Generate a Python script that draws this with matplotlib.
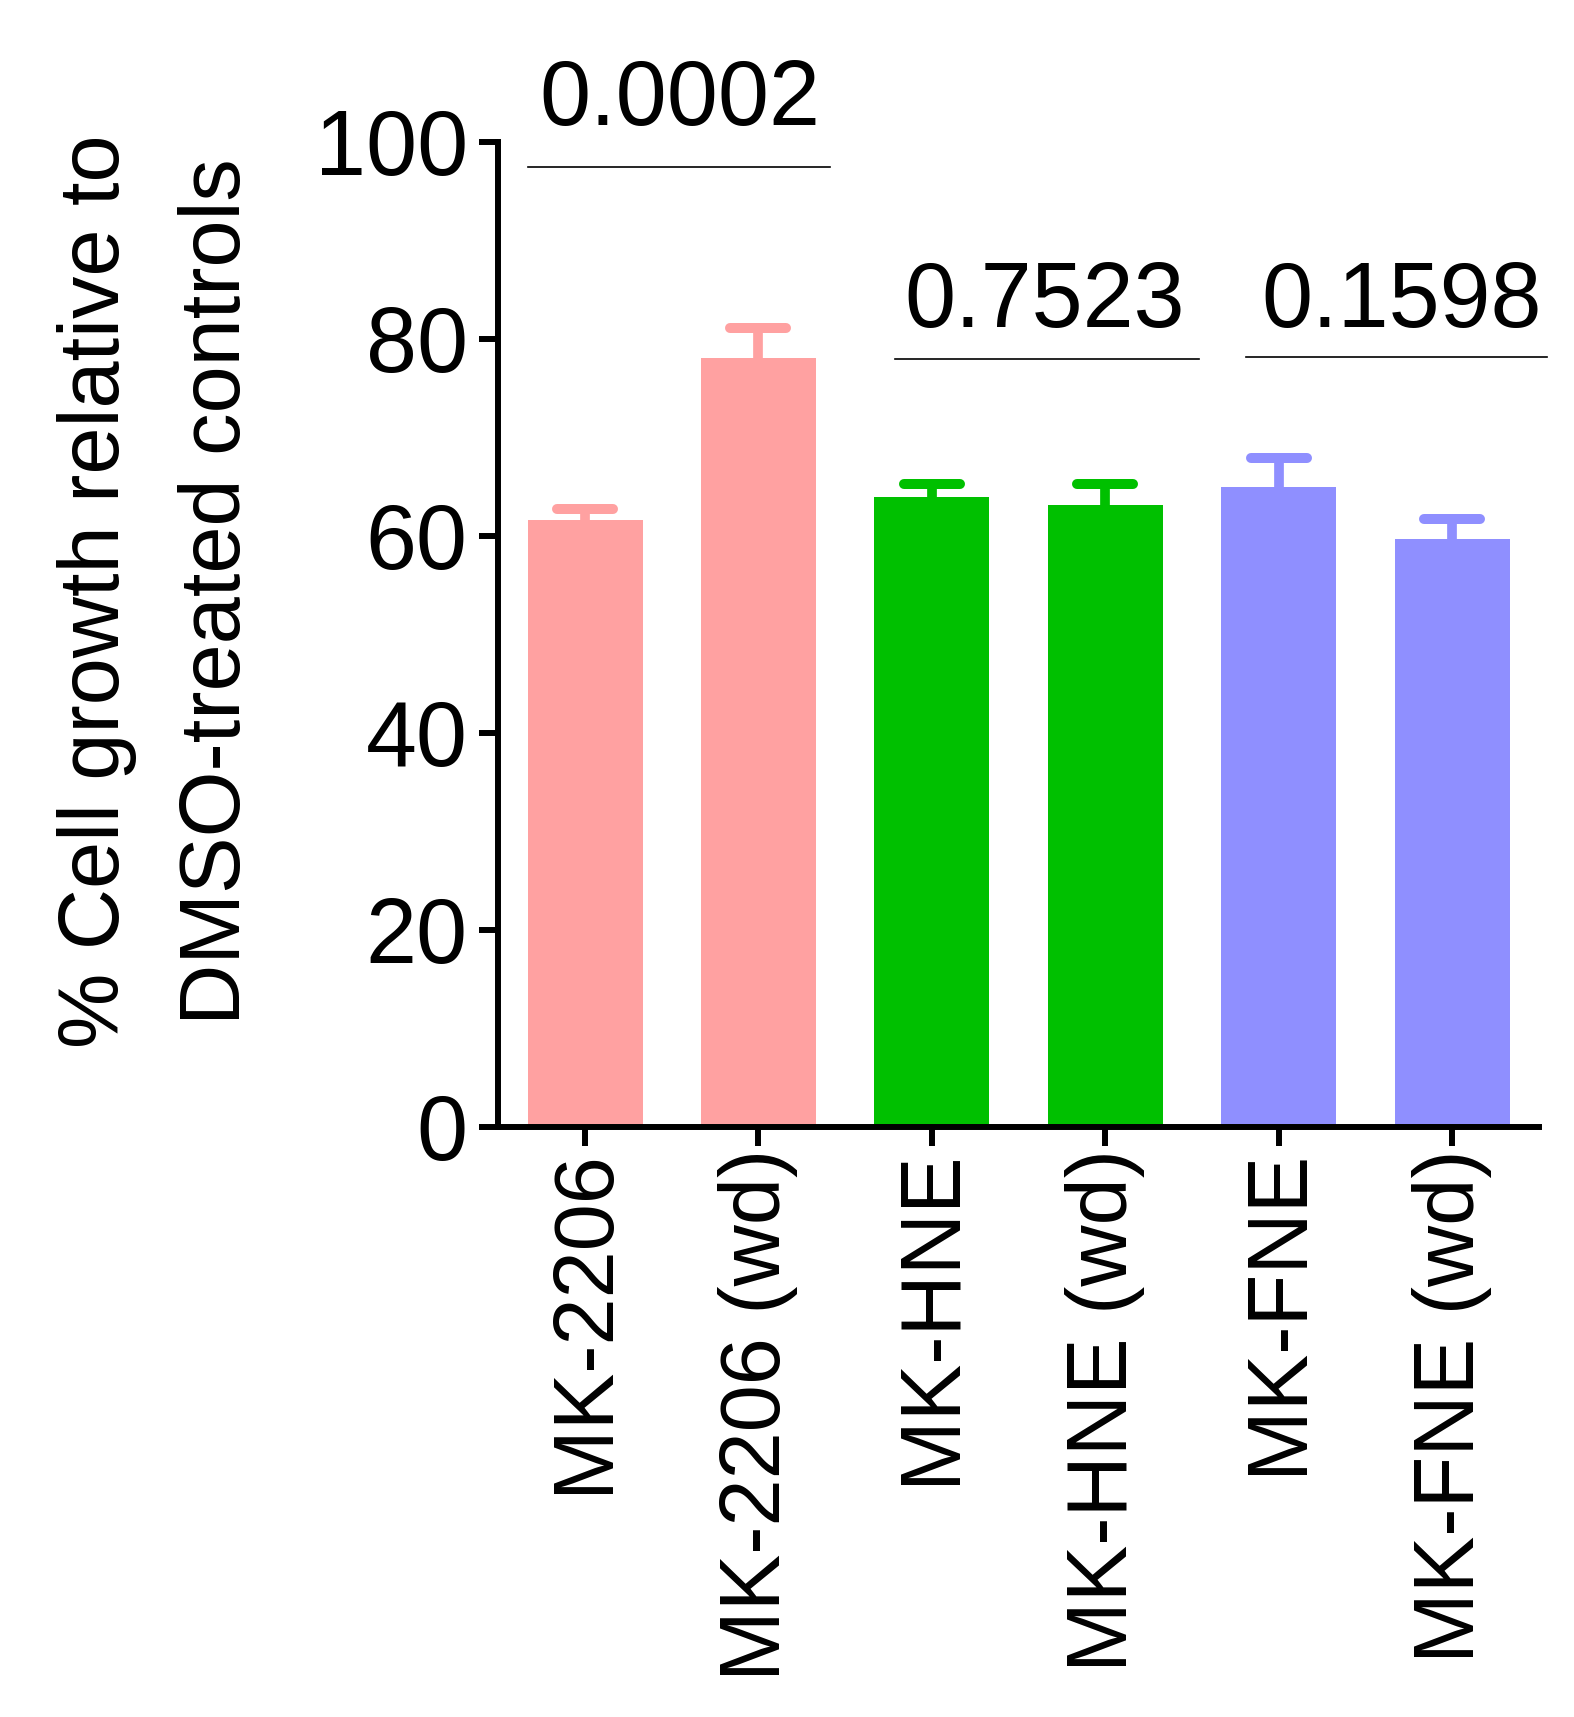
import matplotlib
matplotlib.use("Agg")
import matplotlib.pyplot as plt

plt.rcParams['font.family'] = ['Liberation Sans', 'DejaVu Sans']

# ---- data ----
categories = ["MK-2206", "MK-2206 (wd)", "MK-HNE", "MK-HNE (wd)", "MK-FNE", "MK-FNE (wd)"]
means = [61.6, 78.0, 63.9, 63.1, 64.9, 59.7]
sem = [1.1, 3.1, 1.3, 2.15, 3.0, 2.0]
bar_colors = ["#FFA1A1", "#FFA1A1", "#00C000", "#00C000", "#8F8FFF", "#8F8FFF"]
p_values = ["0.0002", "0.7523", "0.1598"]
y_ticks = [0, 20, 40, 60, 80, 100]

# ---- layout of the comparison brackets (data coordinates) ----
bracket_x = [(-0.33, 1.41), (1.79, 3.54), (3.81, 5.55)]
bracket_y = [97.4, 77.9, 78.1]
label_x = [0.548, 2.65, 4.71]
label_y = [101.7, 81.2, 81.2]

fig = plt.figure(figsize=(15.74, 17.17), dpi=100)
ax = fig.add_axes([0.3166, 0.3438, 0.661, 0.5737])

x = list(range(len(categories)))
ax.bar(x, means, width=0.663, color=bar_colors, edgecolor="none", zorder=2)

# upper-only error bars with rounded caps
cap_half = 0.1615
for xi, m, s, c in zip(x, means, sem, bar_colors):
    ax.plot([xi, xi], [m, m + s], color=c, lw=7.0, solid_capstyle="butt", zorder=2)
    ax.plot([xi - cap_half, xi + cap_half], [m + s, m + s], color=c, lw=7.2,
            solid_capstyle="round", zorder=2)

# comparison brackets with p-values
for (x0, x1), yb, tx, ty, p in zip(bracket_x, bracket_y, label_x, label_y, p_values):
    ax.plot([x0, x1], [yb, yb], color="black", lw=1.2, clip_on=False, zorder=3)
    ax.text(tx, ty, p, ha="center", va="baseline", fontsize=66, clip_on=False)

ax.set_xlim(-0.5, 5.5)
ax.set_ylim(0, 100)
ax.set_yticks(y_ticks)
ax.set_yticklabels([str(t) for t in y_ticks])
ax.set_xticks(x)
ax.set_xticklabels(categories, rotation=90, ha="center", va="top")

for side in ("top", "right"):
    ax.spines[side].set_visible(False)
for side in ("left", "bottom"):
    ax.spines[side].set_linewidth(4.3)
    ax.spines[side].set_zorder(4)

ax.tick_params(axis="both", direction="out", length=14, width=4.3)
ax.tick_params(axis="y", labelsize=66, pad=8)
ax.tick_params(axis="x", labelsize=61, pad=2)

# two-line y axis title
fig.text(119 / 1574, 0.6555, "% Cell growth relative to", rotation=90,
         rotation_mode="anchor", ha="center", va="baseline", fontsize=61)
fig.text(240 / 1574, 0.6555, "DMSO-treated controls", rotation=90,
         rotation_mode="anchor", ha="center", va="baseline", fontsize=61)

fig.savefig("out.png", dpi=100)
